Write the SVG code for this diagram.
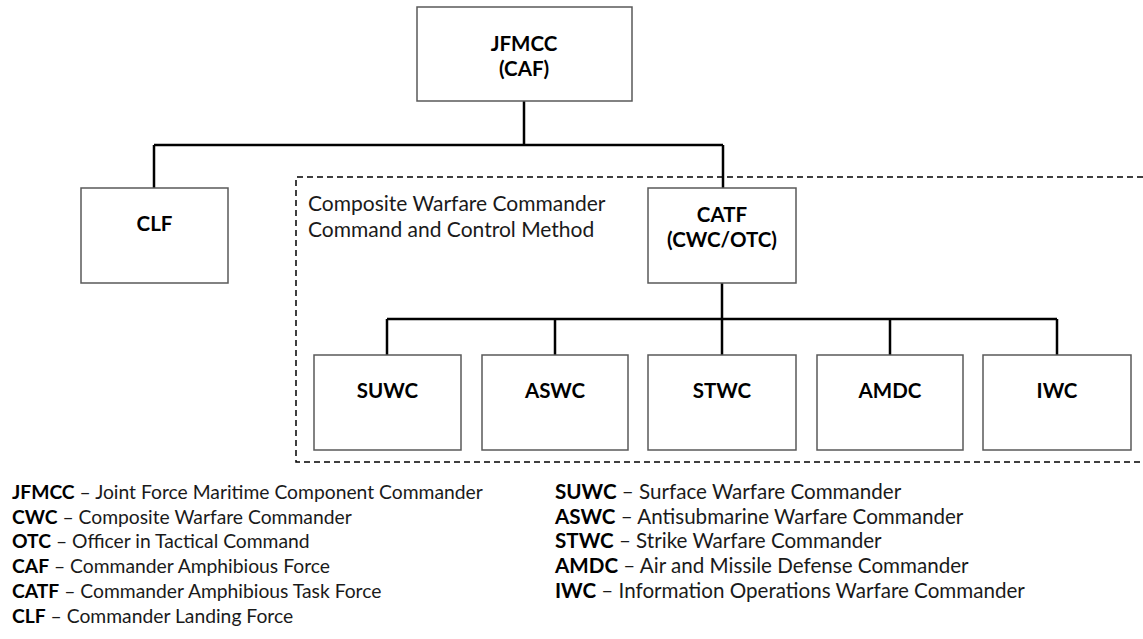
<svg xmlns="http://www.w3.org/2000/svg" width="1143" height="639" viewBox="0 0 1143 639">
<style>
.box{fill:#fff;stroke:#595959;stroke-width:1.5}
.lbl{font-family:Lato,"Open Sans","Liberation Sans",sans-serif;font-weight:bold;font-size:20.5px;fill:#000;text-anchor:middle}
.con{fill:none;stroke:#000;stroke-width:2.5}
.dash{fill:none;stroke:#000;stroke-width:1.5;stroke-dasharray:6 4}
.cap{font-family:Lato,"Open Sans","Liberation Sans",sans-serif;font-size:21px;fill:#1a1a1a}
.leg{font-family:Lato,"Open Sans","Liberation Sans",sans-serif;font-size:19.3px;fill:#1a1a1a}
.leg2{font-size:20.6px}
.leg tspan.b{font-weight:bold;fill:#000}
</style>
<rect width="1143" height="639" fill="#fff"/>
<path class="dash" d="M1143,177 H296 V462 H1143"/>
<g id="connectors">
<path class="con" d="M524,101 V145 M154,145 H723 M154,145 V188 M723,145 V188"/>
<path class="con" d="M722,283 V319 M387,319 H1057 M387,319 V355 M555,319 V355 M722,319 V355 M890,319 V355 M1057,319 V355"/>
</g>
<g id="jfmcc"><rect class="box" x="417" y="7" width="215" height="94"/><text class="lbl" x="524" y="51">JFMCC</text><text class="lbl" x="524" y="76">(CAF)</text></g>
<g id="clf"><rect class="box" x="81" y="188" width="147" height="95"/><text class="lbl" x="154.5" y="231">CLF</text></g>
<g id="cwc-caption"><text class="cap" x="308" y="211">Composite Warfare Commander</text><text class="cap" x="308" y="237">Command and Control Method</text></g>
<g id="catf"><rect class="box" x="648" y="188" width="148" height="95"/><text class="lbl" x="722" y="222">CATF</text><text class="lbl" x="722" y="247">(CWC/OTC)</text></g>
<g id="suwc"><rect class="box" x="314" y="355" width="147" height="95"/><text class="lbl" x="387.5" y="398">SUWC</text></g>
<g id="aswc"><rect class="box" x="482" y="355" width="146" height="95"/><text class="lbl" x="555" y="398">ASWC</text></g>
<g id="stwc"><rect class="box" x="648" y="355" width="148" height="95"/><text class="lbl" x="722" y="398">STWC</text></g>
<g id="amdc"><rect class="box" x="817" y="355" width="146" height="95"/><text class="lbl" x="890" y="398">AMDC</text></g>
<g id="iwc"><rect class="box" x="983" y="355" width="148" height="95"/><text class="lbl" x="1057" y="398">IWC</text></g>
<g id="legend">
<text class="leg" x="12" y="499"><tspan class="b">JFMCC</tspan> – Joint Force Maritime Component Commander</text>
<text class="leg" x="12" y="524"><tspan class="b">CWC</tspan> – Composite Warfare Commander</text>
<text class="leg" x="12" y="548"><tspan class="b">OTC</tspan> – Officer in Tactical Command</text>
<text class="leg" x="12" y="573"><tspan class="b">CAF</tspan> – Commander Amphibious Force</text>
<text class="leg" x="12" y="598"><tspan class="b">CATF</tspan> – Commander Amphibious Task Force</text>
<text class="leg" x="12" y="623"><tspan class="b">CLF</tspan> – Commander Landing Force</text>
<text class="leg leg2" x="555" y="499"><tspan class="b">SUWC</tspan> – Surface Warfare Commander</text>
<text class="leg leg2" x="555" y="524"><tspan class="b">ASWC</tspan> – Antisubmarine Warfare Commander</text>
<text class="leg leg2" x="555" y="548"><tspan class="b">STWC</tspan> – Strike Warfare Commander</text>
<text class="leg leg2" x="555" y="573"><tspan class="b">AMDC</tspan> – Air and Missile Defense Commander</text>
<text class="leg leg2" x="555" y="598"><tspan class="b">IWC</tspan> – Information Operations Warfare Commander</text>
</g>
</svg>
